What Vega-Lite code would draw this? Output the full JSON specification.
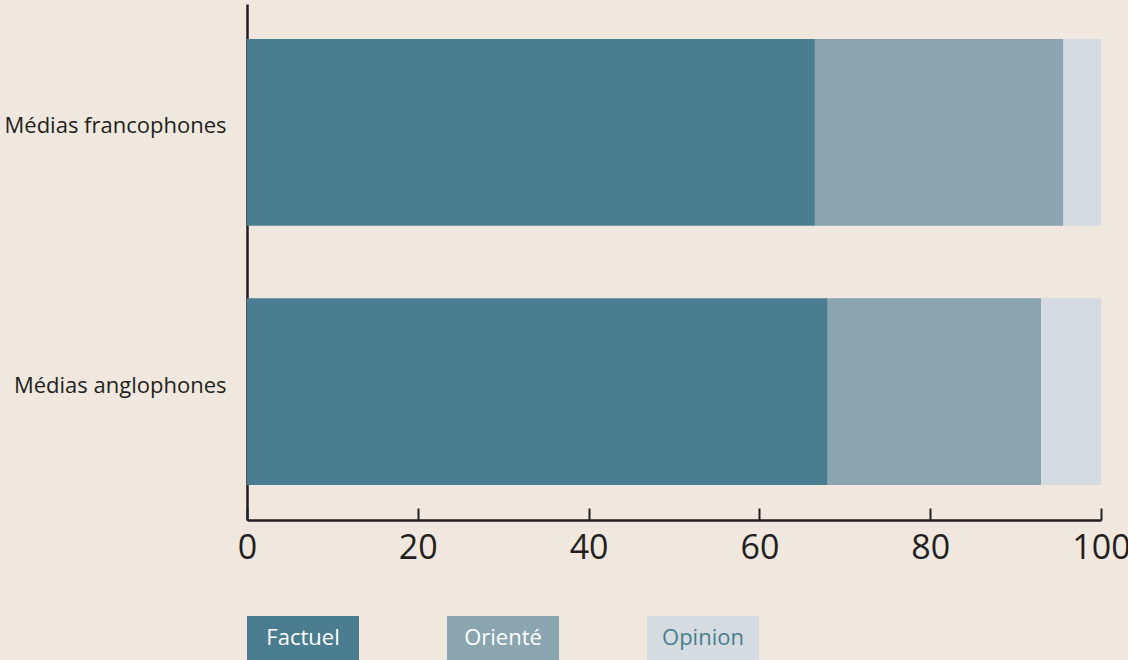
{
  "$schema": "https://vega.github.io/schema/vega-lite/v6.json",
  "background": "#f0e8de",
  "padding": {"left": 4, "top": 4, "right": 28, "bottom": 10},
  "bounds": "flush",
  "spacing": 96,
  "config": {"view": {"stroke": null}, "font": "Open Sans"},
  "vconcat": [
    {
      "width": 854,
      "height": 516,
      "data": {"values": [
        {"media": "Médias francophones", "category": "Factuel", "rank": 1, "value": 66.5},
        {"media": "Médias francophones", "category": "Orienté", "rank": 2, "value": 29.1},
        {"media": "Médias francophones", "category": "Opinion", "rank": 3, "value": 4.4},
        {"media": "Médias anglophones", "category": "Factuel", "rank": 1, "value": 68.0},
        {"media": "Médias anglophones", "category": "Orienté", "rank": 2, "value": 25.0},
        {"media": "Médias anglophones", "category": "Opinion", "rank": 3, "value": 7.0}
      ]},
      "mark": {"type": "bar"},
      "encoding": {
        "y": {
          "field": "media", "type": "nominal",
          "sort": ["Médias francophones", "Médias anglophones"],
          "scale": {"paddingInner": 0.28, "paddingOuter": 0.135},
          "axis": {"title": null, "ticks": false, "domainColor": "#231f20", "domainWidth": 2.5,
                   "labelFontSize": 22, "labelColor": "#231f20", "labelPadding": 21, "labelOffset": -6, "labelLimit": 400}
        },
        "x": {
          "field": "value", "type": "quantitative", "stack": "zero",
          "scale": {"domain": [0, 100], "nice": false},
          "axis": {"title": null, "values": [0, 20, 40, 60, 80, 100], "grid": false,
                   "tickSize": -12, "tickColor": "#231f20", "tickWidth": 2,
                   "domainColor": "#231f20", "domainWidth": 2.5,
                   "labelFontSize": 34, "labelColor": "#231f20", "labelPadding": 23,
                   "labelFlush": false, "labelOverlap": false}
        },
        "color": {
          "field": "category", "type": "nominal",
          "scale": {"domain": ["Factuel", "Orienté", "Opinion"], "range": ["#4a7d8f", "#8aa5b0", "#d4dce2"]},
          "legend": null
        },
        "order": {"field": "rank", "type": "quantitative"}
      }
    },
    {
      "width": 512,
      "height": 44,
      "data": {"values": [
        {"category": "Factuel"},
        {"category": "Orienté"},
        {"category": "Opinion"}
      ]},
      "encoding": {
        "x": {
          "field": "category", "type": "nominal",
          "sort": ["Factuel", "Orienté", "Opinion"],
          "scale": {"paddingInner": 0.44, "paddingOuter": 0},
          "axis": null
        }
      },
      "layer": [
        {
          "mark": {"type": "rect"},
          "encoding": {
            "color": {
              "field": "category", "type": "nominal",
              "scale": {"domain": ["Factuel", "Orienté", "Opinion"], "range": ["#4a7d8f", "#8aa5b0", "#d4dce2"]},
              "legend": null
            }
          }
        },
        {
          "mark": {"type": "text", "fontSize": 22},
          "encoding": {
            "text": {"field": "category"},
            "color": {"condition": {"test": "datum.category === 'Opinion'", "value": "#4a7d8f"}, "value": "#ffffff"}
          }
        }
      ]
    }
  ]
}
